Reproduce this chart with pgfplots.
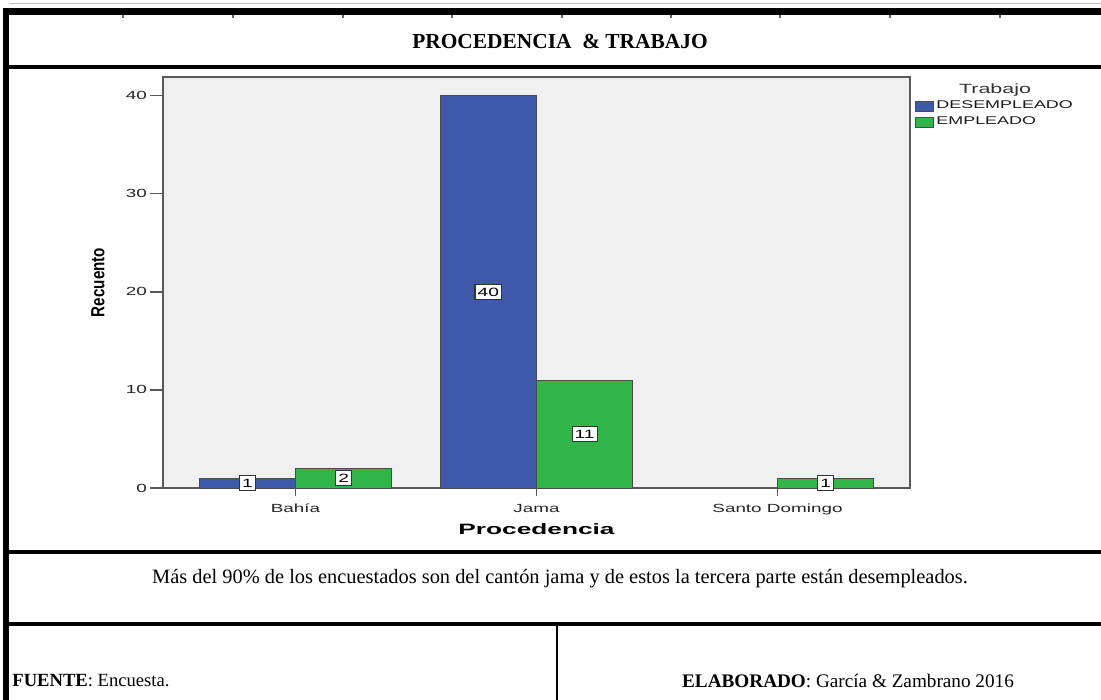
\documentclass[border=0pt]{standalone}
\usepackage{fontspec}
\setmainfont{Liberation Serif}
\newfontfamily\cs[FakeStretch=1.6]{Liberation Sans}
\newfontfamily\csb[FakeStretch=1.75]{Liberation Sans}
\newfontfamily\csr{Liberation Sans}
\usepackage{graphicx}
\usepackage{pgfplots}
\pgfplotsset{compat=1.18}
\definecolor{spssblue}{RGB}{62,88,170}
\definecolor{spssgreen}{RGB}{48,181,72}
\definecolor{bgray}{RGB}{240,240,240}
\begin{document}
\begin{tikzpicture}[x=0.5pt,y=-0.5pt]
\useasboundingbox (0,0) rectangle (1101,700);
% table frame
\draw[gray!55, line width=0.5pt] (9,4) -- (1101,4);
\fill[black] (3,8) rectangle (1101,15);
\foreach \x in {123,233,343,452,562,671,780,890,1000} \draw[black!60, line width=0.6pt] (\x,15) -- (\x,18);
\fill[black] (3,8) rectangle (9,700);
\fill[black] (9,65) rectangle (1101,69);
\fill[black] (9,550) rectangle (1101,554);
\fill[black] (9,622) rectangle (1101,626);
\fill[black] (556,626) rectangle (558,700);
\node[font=\fontsize{10.7}{12}\selectfont\bfseries, inner sep=0pt] at (560,41) {PROCEDENCIA \ \& TRABAJO};
\node[font=\fontsize{10.2}{12}\selectfont, inner sep=0pt] at (560,579) {Más del 90\% de los encuestados son del cantón jama y de estos la tercera parte están desempleados.};
\node[font=\fontsize{9.3}{11}\selectfont, inner sep=0pt, anchor=west] at (12,681) {\textbf{FUENTE}: Encuesta.};
\node[font=\fontsize{9.6}{11}\selectfont, inner sep=0pt] at (848,681) {\textbf{ELABORADO}: García \& Zambrano 2016};
\coordinate (axpos) at (163,488);
\begin{axis}[
  at={(axpos)}, anchor=south west,
  scale only axis, width=373.5pt, height=205.5pt,
  xmin=-0.55, xmax=2.55, ymin=0, ymax=41.9,
  axis background/.style={fill=bgray},
  axis line style={black!65, line width=0.75pt},
  xtick={0,1,2}, xticklabels={Bahía,Jama,Santo Domingo},
  ytick={0,10,20,30,40},
  /pgf/number format/assume math mode=true,
  tick align=outside, major tick length=6.5pt,
  tick style={black!65, line width=0.7pt},
  xtick style={/pgfplots/major tick length=4pt},
  xtick pos=left, ytick pos=left,
  ticklabel style={font=\cs\fontsize{5.9}{7}\selectfont, text=black!85},
  xticklabel style={yshift=2pt},
  yticklabel style={xshift=2pt},
  xlabel={Procedencia},
  xlabel style={font=\csb\bfseries\fontsize{7.5}{9}\selectfont, at={(axis description cs:0.5,-0.099)}, anchor=center},
  ylabel={\scalebox{0.8}[1]{\csr\bfseries\fontsize{9.5}{11}\selectfont Recuento}},
  ylabel style={at={(axis description cs:-0.087,0.5)}, anchor=center},
  legend style={at={(axis description cs:1.0067,0.948)}, anchor=north west, draw=none, fill=none,
    font=\cs\fontsize{5.6}{6.5}\selectfont, inner sep=0pt, row sep=0.6pt,
    nodes={inner sep=1pt, text=black!90}},
  legend cell align=left,
  clip=false,
]
\addplot[ybar, bar width=0.4, bar shift=-0.2, fill=spssblue, draw=black!70, line width=0.5pt, forget plot]
  coordinates {(0,1) (1,40)};
\addplot[ybar, bar width=0.4, bar shift=0.2, fill=spssgreen, draw=black!70, line width=0.5pt, forget plot]
  coordinates {(0,2) (1,11) (2,1)};
\addplot[only marks, mark=none, forget plot, point meta=explicit symbolic,
  nodes near coords, nodes near coords align={center},
  every node near coord/.append style={anchor=center, draw=black!80, fill=white, line width=0.6pt,
    font=\cs\fontsize{6}{6.5}\selectfont, inner xsep=1.3pt, inner ysep=1.7pt, text height=4.2pt, text depth=0pt}]
  coordinates {(-0.2,0.5) [1] (0.2,1) [2] (0.8,20) [40] (1.2,5.5) [11] (2.2,0.5) [1]};
\addlegendimage{legend image code/.code={\draw[fill=spssblue, draw=black!70, line width=0.5pt] (0pt,-2.5pt) rectangle (9pt,2.5pt);}}
\addlegendentry{DESEMPLEADO}
\addlegendimage{legend image code/.code={\draw[fill=spssgreen, draw=black!70, line width=0.5pt] (0pt,-2.5pt) rectangle (9pt,2.5pt);}}
\addlegendentry{EMPLEADO}
\node[font=\cs\fontsize{6.7}{8}\selectfont, text=black!80] at (axis description cs:1.1138,0.968) {Trabajo};
\end{axis}
\end{tikzpicture}
\end{document}
